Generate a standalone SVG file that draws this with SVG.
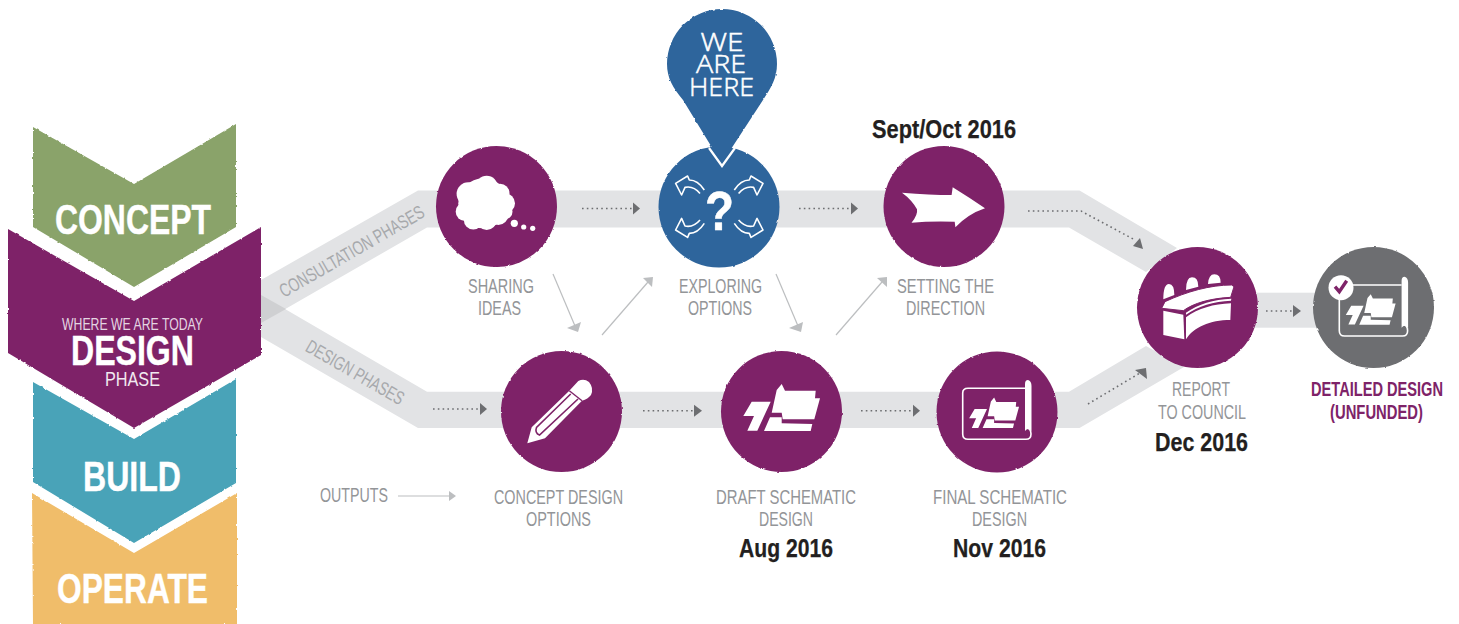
<svg xmlns="http://www.w3.org/2000/svg" width="1459" height="624" viewBox="0 0 1459 624">
<style>
text{font-family:"Liberation Sans Narrow","Liberation Sans",Arial,sans-serif}
.lab{font-size:19.5px;fill:#939598}
.date{font-size:25px;font-weight:700;fill:#231f20;stroke:#231f20;stroke-width:.25}
.big{font-size:43px;font-weight:700;fill:#fff;stroke:#fff;stroke-width:.4}
.road{fill:#e2e3e5}
.road-label{font-size:19px;fill:#a7a9ac}
.purple{fill:#7e2368}
.dot{fill:none;stroke:#6d6e71;stroke-width:1.6;stroke-dasharray:1.6 3.2}
.thin{fill:none;stroke:#bcbec0;stroke-width:1.2}
.head{fill:#6d6e71}
.ghead{fill:#bcbec0}
.w{fill:#fff}
.wl{fill:none;stroke:#fff;stroke-width:1.6;stroke-linejoin:round}
.hand{font-size:26px;fill:#fff;stroke:#fff;stroke-width:.5;font-family:"Open Sans",sans-serif;font-weight:300}
</style>
<defs>
<filter id="rough" x="-5%" y="-5%" width="110%" height="110%">
<feTurbulence type="fractalNoise" baseFrequency="0.25" numOctaves="2" seed="4"/>
<feDisplacementMap in="SourceGraphic" scale="2.2" xChannelSelector="R" yChannelSelector="G"/>
</filter>
<g id="plan">
<path class="w" d="M-29.8-9.8H-10.8L-24.2 19.2H-34.2L-27.5 4.5H-38.2Z"/>
<path class="w" d="M-4.8-21.5L.2-27.5 3.5-20.8H34.2L33.5-13.2H38.5L32.8 7.8H1.2L.2 1.2H-9.8Z"/>
<path class="w" d="M-11.5 5.8H.2V11.8L30.8 12.5 29.2 19.5H-17.5Z"/>
</g>
<g id="scroll">
<path class="wl" d="M1025 388.3H968Q962.7 388.3 962.7 393V434Q962.7 439.3 968 439.3H1026Q1031 439.3 1031 434Q1031 428 1026 428"/>
<path class="w" d="M1025 431V384Q1025 380 1028 380Q1031.5 381 1031.5 386V431Q1028 427 1025 431Z"/>
<use href="#plan" transform="translate(994 415.4) scale(.65)"/>
</g>
<path id="swirl" class="wl" d="M-15-16.7C-19.3-23.3-24.3-26.7-30-26.7L-31.7-30.7-43.7-23.3-37.7-11.7-34.3-19.3C-27.7-20.7-22.7-17.3-19.3-13.3"/>
</defs>

<g id="connectors">
<path class="road" d="M261 280L418 190.5H1079.5L1177 248 1146 272 1069 227.5H427L261 323Z"/>
<path class="road" d="M261 295L427 391.7H1069L1146 346 1184 367 1079.5 428H418L261 337Z"/>
<path fill="#cfd0d2" d="M261 295L286 309 261 323Z"/>
<rect class="road" x="1250" y="292.7" width="70" height="35"/>
<path class="dot" d="M582 208.5H633"/><path class="head" d="M633 202.5L640 208.5 633 214.5Z"/>
<path class="dot" d="M799 208.5H851"/><path class="head" d="M851 202.5L858 208.5 851 214.5Z"/>
<path class="dot" d="M1028 211H1081L1135 240"/><path class="head" d="M1133 246L1143 249 1140 238Z"/>
<path class="dot" d="M433 409H480"/><path class="head" d="M480 403L487 409 480 415Z"/>
<path class="dot" d="M643 410.7H694"/><path class="head" d="M694 404.7L702 410.7 694 416.7Z"/>
<path class="dot" d="M861 410.7H913"/><path class="head" d="M913 404.7L920 410.7 913 416.7Z"/>
<path class="dot" d="M1088 404L1140 373"/><path class="head" d="M1135 370L1146 368 1147 379Z"/>
<path class="dot" d="M1266 311H1293"/><path class="head" d="M1293 305L1301 311 1293 317Z"/>
<path class="thin" d="M553 274L575 326"/><path class="ghead" d="M567 328L581 322 578 332Z"/>
<path class="thin" d="M602 335L648 282"/><path class="ghead" d="M643 278L653 277 652 287Z"/>
<path class="thin" d="M776 274L798 326"/><path class="ghead" d="M789 328L803 322 801 332Z"/>
<path class="thin" d="M836 335L882 282"/><path class="ghead" d="M877 278L887 277 887 287Z"/>
<path class="thin" d="M398 496H449"/><path class="ghead" d="M449 491L456 496 449 501Z"/>
<text class="road-label" transform="translate(355 257) rotate(-30)" text-anchor="middle" textLength="164" lengthAdjust="spacingAndGlyphs">CONSULTATION PHASES</text>
<text class="road-label" transform="translate(352 378) rotate(30)" text-anchor="middle" textLength="110" lengthAdjust="spacingAndGlyphs">DESIGN PHASES</text>
</g>

<g id="phase-concept">
<path fill="#8aa36a" filter="url(#rough)" d="M33 127L134 184 236 124V227L134 287 33 227Z"/>
<text class="big" x="55" y="234" textLength="156" lengthAdjust="spacingAndGlyphs">CONCEPT</text>
</g>
<g id="phase-design">
<path class="purple" filter="url(#rough)" d="M8 229L134 301 261 227V355L134 428 8 353Z"/>
<text x="62" y="329.5" font-size="16.7" fill="#e4d5e2" textLength="141" lengthAdjust="spacingAndGlyphs">WHERE WE ARE TODAY</text>
<text class="big" x="71" y="365" textLength="123" lengthAdjust="spacingAndGlyphs">DESIGN</text>
<text x="105" y="386" font-size="20" fill="#f1e9f0" textLength="55" lengthAdjust="spacingAndGlyphs">PHASE</text>
</g>
<g id="phase-build">
<path fill="#48a3b8" filter="url(#rough)" d="M33 382L134 439 236 379V483L134 543 33 482Z"/>
<text class="big" x="83" y="491" textLength="98" lengthAdjust="spacingAndGlyphs">BUILD</text>
</g>
<g id="phase-operate">
<path fill="#f0bd6a" filter="url(#rough)" d="M32 493L134 553 237 493V624H33Z"/>
<text class="big" x="57" y="603" textLength="151" lengthAdjust="spacingAndGlyphs">OPERATE</text>
</g>

<g id="node-sharing-ideas">
<circle class="purple" filter="url(#rough)" cx="496.5" cy="206.5" r="60.5"/>
<g class="w">
<circle cx="483.3" cy="203.3" r="25"/><circle cx="486.7" cy="186.7" r="11"/><circle cx="468.3" cy="194" r="11.7"/><circle cx="500" cy="193.3" r="9.5"/><circle cx="505" cy="203.3" r="10"/><circle cx="465" cy="211.7" r="9.3"/><circle cx="473.3" cy="220" r="9.5"/><circle cx="486.7" cy="220" r="10"/><circle cx="498.3" cy="215" r="10"/><circle cx="505" cy="211.7" r="7.5"/>
<circle cx="514.3" cy="223.3" r="3.6"/><circle cx="523.7" cy="227" r="2.6"/><circle cx="532.7" cy="228.3" r="2.6"/>
</g>
<text class="lab" x="468" y="293" textLength="66" lengthAdjust="spacingAndGlyphs">SHARING</text>
<text class="lab" x="478" y="315" textLength="43" lengthAdjust="spacingAndGlyphs">IDEAS</text>
</g>

<g id="node-exploring-options">
<circle fill="#2f659c" filter="url(#rough)" cx="719" cy="207" r="60.5"/>
<g transform="translate(719.3 206.7)">
<use href="#swirl"/><use href="#swirl" transform="scale(-1 1)"/><use href="#swirl" transform="scale(1 -1)"/><use href="#swirl" transform="scale(-1 -1)"/>
</g>
<text x="705" y="230" font-size="56" font-weight="700" fill="#fff" stroke="#fff" stroke-width=".5" textLength="29" lengthAdjust="spacingAndGlyphs" style="font-family:'Liberation Sans',Arial,sans-serif">?</text>
<text class="lab" x="679" y="293" textLength="83" lengthAdjust="spacingAndGlyphs">EXPLORING</text>
<text class="lab" x="688" y="315" textLength="64" lengthAdjust="spacingAndGlyphs">OPTIONS</text>
</g>

<g id="pin-we-are-here">
<path fill="#2f659c" filter="url(#rough)" d="M722 163L711 146 683 100C673 88 667 78 667 64A55 55 0 1 1 777 64C777 78 771 88 763 100L733 146Z"/>
<path fill="none" stroke="#fff" stroke-width="2.2" d="M709 148L722 166 735 148"/>
<text class="hand" x="700.5" y="51" textLength="43" lengthAdjust="spacingAndGlyphs">WE</text>
<text class="hand" x="696" y="72.5" textLength="50" lengthAdjust="spacingAndGlyphs">ARE</text>
<text class="hand" x="689" y="96" textLength="65" lengthAdjust="spacingAndGlyphs">HERE</text>
</g>

<g id="node-setting-direction">
<circle class="purple" filter="url(#rough)" cx="944" cy="206.5" r="60.5"/>
<path class="w" d="M902 192.7Q930 195 951.6 195L952.7 187.3Q970 198 985 208.3Q968 214 955.4 227.3L954.7 221.7Q930 221 911.5 222.7Q918 215 917 209.3Q912 200 902 192.7Z"/>
<text class="date" x="872" y="138" textLength="144" lengthAdjust="spacingAndGlyphs">Sept/Oct 2016</text>
<text class="lab" x="897" y="293" textLength="97" lengthAdjust="spacingAndGlyphs">SETTING THE</text>
<text class="lab" x="906" y="315" textLength="79" lengthAdjust="spacingAndGlyphs">DIRECTION</text>
</g>

<g id="node-concept-design-options">
<circle class="purple" filter="url(#rough)" cx="561.5" cy="411.5" r="60.5"/>
<path class="w" d="M527.3 443.3L531.7 427.3 569.3 390.7 578.3 381Q584 378 589 382Q594 388 591 395Q588 399 582 400.7L545 438.3Z"/>
<path fill="none" stroke="#7e2368" stroke-width="1.6" d="M570.7 394L536.5 427.5Q534.5 433 539.5 435L578 399"/>
<path fill="none" stroke="#7e2368" stroke-width="1.4" d="M569.3 390.7L582 400.7"/>
<text class="lab" x="494" y="504" textLength="129" lengthAdjust="spacingAndGlyphs">CONCEPT DESIGN</text>
<text class="lab" x="526" y="526" textLength="65" lengthAdjust="spacingAndGlyphs">OPTIONS</text>
</g>

<g id="node-draft-schematic">
<circle class="purple" filter="url(#rough)" cx="781.5" cy="411.5" r="60.5"/>
<use href="#plan" transform="translate(781.5 411.5)"/>
<text class="lab" x="716" y="504" textLength="140" lengthAdjust="spacingAndGlyphs">DRAFT SCHEMATIC</text>
<text class="lab" x="759" y="526" textLength="54" lengthAdjust="spacingAndGlyphs">DESIGN</text>
<text class="date" x="739" y="557" textLength="94" lengthAdjust="spacingAndGlyphs">Aug 2016</text>
</g>

<g id="node-final-schematic">
<circle class="purple" filter="url(#rough)" cx="997" cy="412" r="60.5"/>
<use href="#scroll"/>
<text class="lab" x="933" y="504" textLength="134" lengthAdjust="spacingAndGlyphs">FINAL SCHEMATIC</text>
<text class="lab" x="972" y="526" textLength="55" lengthAdjust="spacingAndGlyphs">DESIGN</text>
<text class="date" x="953" y="557" textLength="93" lengthAdjust="spacingAndGlyphs">Nov 2016</text>
</g>

<g id="node-report-to-council">
<circle class="purple" filter="url(#rough)" cx="1197.5" cy="307.5" r="60.5"/>
<g transform="translate(1130 240) scale(.3333)">
<path class="w" d="M100 178Q100 132 117 132Q133 132 133 165ZM168 150Q168 112 186 112Q205 112 205 140ZM234 132Q236 103 253 103Q272 103 272 128Z"/>
<path class="w" stroke="#7e2368" stroke-width="3" d="M95 205L105 185C170 155 240 135 305 135L312 140 302 172C240 175 190 190 160 212Z"/>
<path class="w" d="M100 212L160 224 163 298 100 285Z"/>
<path class="w" d="M168 218C205 192 250 178 304 176L303 182C250 184 205 198 168 224Z"/>
<path class="w" d="M168 232C205 205 250 192 303 190L301 240C240 240 190 262 168 298Z"/>
</g>
<text class="lab" x="1172" y="396" textLength="58" lengthAdjust="spacingAndGlyphs">REPORT</text>
<text class="lab" x="1158" y="419" textLength="88" lengthAdjust="spacingAndGlyphs">TO COUNCIL</text>
<text class="date" x="1155" y="451" textLength="93" lengthAdjust="spacingAndGlyphs">Dec 2016</text>
</g>

<g id="node-detailed-design">
<circle fill="#6d6e71" filter="url(#rough)" cx="1373.5" cy="307.5" r="60.5"/>
<use href="#scroll" transform="translate(376.6 -103.3)"/>
<circle class="w" cx="1341" cy="287.7" r="12.5"/>
<path fill="none" stroke="#7e2368" stroke-width="3.4" d="M1335 286.7L1339.3 291.7 1346.7 280.7"/>
<text x="1311" y="396" font-size="19.5" font-weight="700" fill="#7e2368" textLength="132" lengthAdjust="spacingAndGlyphs">DETAILED DESIGN</text>
<text x="1330" y="419" font-size="19.5" font-weight="700" fill="#7e2368" textLength="93" lengthAdjust="spacingAndGlyphs">(UNFUNDED)</text>
</g>

<g id="outputs-label">
<text class="lab" x="320" y="502" textLength="68" lengthAdjust="spacingAndGlyphs">OUTPUTS</text>
</g>
</svg>
